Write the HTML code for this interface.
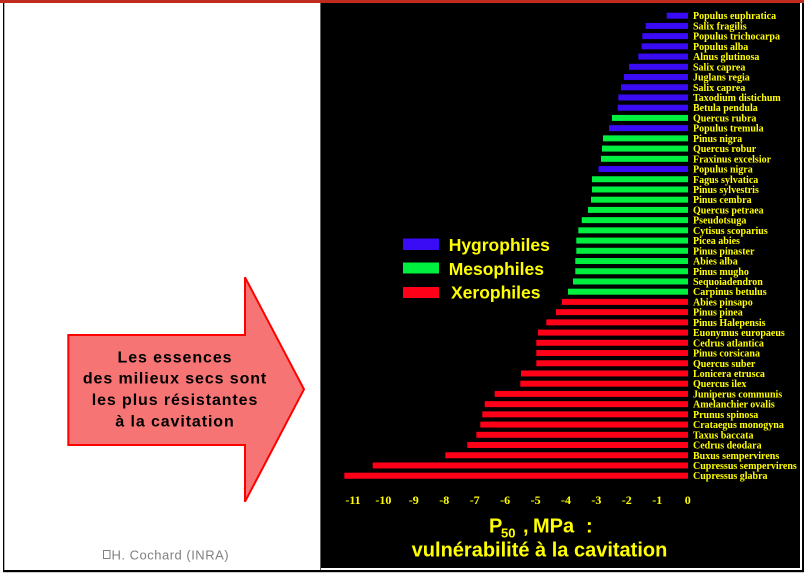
<!DOCTYPE html>
<html>
<head>
<meta charset="utf-8">
<style>
html,body{margin:0;padding:0;background:#fff;}
body{width:811px;height:576px;overflow:hidden;}
svg{display:block;}
.lab{font-family:"Liberation Serif",serif;font-weight:bold;font-size:10px;fill:#ffff00;}
.tick{font-family:"Liberation Serif",serif;font-weight:bold;font-size:12px;fill:#ffff00;}
.sans{font-family:"Liberation Sans",sans-serif;font-weight:bold;}
</style>
</head>
<body>
<svg width="811" height="576" viewBox="0 0 811 576" xmlns="http://www.w3.org/2000/svg">
  <!-- background -->
  <rect x="0" y="0" width="811" height="576" fill="#fff"/>
  <!-- top red band -->
  <rect x="0" y="0" width="804" height="3" fill="#bf2b1f"/>
  <!-- left border -->
  <rect x="3" y="3" width="1.3" height="569" fill="#000"/>
  <!-- bottom outer border -->
  <rect x="3" y="570" width="801" height="2.2" fill="#000"/>
  <!-- right outer border -->
  <rect x="802" y="3" width="2" height="569" fill="#000"/>
  <!-- black panel -->
  <rect x="320" y="3" width="1" height="567" fill="#606060"/>
  <rect x="321" y="3" width="479" height="565" fill="#000"/>

  <!-- arrow -->
  <polygon points="68.3,335 245,335 245,277.3 304,389.3 245,501.7 245,445 68.3,445" fill="#f77474" stroke="#ff0000" stroke-width="2"/>
  <g class="sans" font-size="16" fill="#000" text-anchor="middle" letter-spacing="0.9">
    <text x="175" y="362.7">Les essences</text>
    <text x="175" y="383.3">des milieux secs sont</text>
    <text x="175" y="405">les plus résistantes</text>
    <text x="175" y="426.7">à la cavitation</text>
  </g>

  <!-- copyright -->
  <rect x="103.5" y="550.5" width="6.5" height="8" fill="none" stroke="#808080" stroke-width="1"/>
  <text x="111.5" y="559.3" font-family="Liberation Sans, sans-serif" font-size="13" fill="#808080" letter-spacing="0.5">H. Cochard (INRA)</text>

  <!-- bars -->
  <g id="bars"></g>
  <g>
    <rect x="666.7" y="12.7" width="21.3" height="6" fill="#3a0cf5"/>
    <rect x="645.7" y="22.92" width="42.3" height="6" fill="#3a0cf5"/>
    <rect x="642.3" y="33.14" width="45.7" height="6" fill="#3a0cf5"/>
    <rect x="641.7" y="43.37" width="46.3" height="6" fill="#3a0cf5"/>
    <rect x="638.3" y="53.59" width="49.7" height="6" fill="#3a0cf5"/>
    <rect x="629" y="63.81" width="59" height="6" fill="#3a0cf5"/>
    <rect x="624" y="74.03" width="64" height="6" fill="#3a0cf5"/>
    <rect x="621" y="84.25" width="67" height="6" fill="#3a0cf5"/>
    <rect x="618.3" y="94.48" width="69.7" height="6" fill="#3a0cf5"/>
    <rect x="617.7" y="104.7" width="70.3" height="6" fill="#3a0cf5"/>
    <rect x="612" y="114.92" width="76" height="6" fill="#00f040"/>
    <rect x="609" y="125.14" width="79" height="6" fill="#3a0cf5"/>
    <rect x="603" y="135.36" width="85" height="6" fill="#00f040"/>
    <rect x="602" y="145.59" width="86" height="6" fill="#00f040"/>
    <rect x="601" y="155.81" width="87" height="6" fill="#00f040"/>
    <rect x="598.5" y="166.03" width="89.5" height="6" fill="#3a0cf5"/>
    <rect x="592" y="176.25" width="96" height="6" fill="#00f040"/>
    <rect x="592" y="186.47" width="96" height="6" fill="#00f040"/>
    <rect x="591" y="196.7" width="97" height="6" fill="#00f040"/>
    <rect x="588" y="206.92" width="100" height="6" fill="#00f040"/>
    <rect x="581.7" y="217.14" width="106.3" height="6" fill="#00f040"/>
    <rect x="578.3" y="227.36" width="109.7" height="6" fill="#00f040"/>
    <rect x="576.3" y="237.58" width="111.7" height="6" fill="#00f040"/>
    <rect x="576.3" y="247.81" width="111.7" height="6" fill="#00f040"/>
    <rect x="575.3" y="258.03" width="112.7" height="6" fill="#00f040"/>
    <rect x="575.3" y="268.25" width="112.7" height="6" fill="#00f040"/>
    <rect x="573" y="278.47" width="115" height="6" fill="#00f040"/>
    <rect x="568" y="288.69" width="120" height="6" fill="#00f040"/>
    <rect x="562" y="298.92" width="126" height="6" fill="#ff0018"/>
    <rect x="556" y="309.14" width="132" height="6" fill="#ff0018"/>
    <rect x="546.3" y="319.36" width="141.7" height="6" fill="#ff0018"/>
    <rect x="538" y="329.58" width="150" height="6" fill="#ff0018"/>
    <rect x="536.3" y="339.8" width="151.7" height="6" fill="#ff0018"/>
    <rect x="536.3" y="350.03" width="151.7" height="6" fill="#ff0018"/>
    <rect x="536.3" y="360.25" width="151.7" height="6" fill="#ff0018"/>
    <rect x="521" y="370.47" width="167" height="6" fill="#ff0018"/>
    <rect x="520.3" y="380.69" width="167.7" height="6" fill="#ff0018"/>
    <rect x="494.7" y="390.91" width="193.3" height="6" fill="#ff0018"/>
    <rect x="484.7" y="401.14" width="203.3" height="6" fill="#ff0018"/>
    <rect x="482.3" y="411.36" width="205.7" height="6" fill="#ff0018"/>
    <rect x="480.3" y="421.58" width="207.7" height="6" fill="#ff0018"/>
    <rect x="476.3" y="431.8" width="211.7" height="6" fill="#ff0018"/>
    <rect x="467.3" y="442.02" width="220.7" height="6" fill="#ff0018"/>
    <rect x="445.3" y="452.25" width="242.7" height="6" fill="#ff0018"/>
    <rect x="372.7" y="462.47" width="315.3" height="6" fill="#ff0018"/>
    <rect x="344.3" y="472.69" width="343.7" height="6" fill="#ff0018"/>
  </g>

  <!-- species labels -->
  <g class="lab">
    <text x="693" y="19.2">Populus euphratica</text>
    <text x="693" y="29.42">Salix fragilis</text>
    <text x="693" y="39.64">Populus trichocarpa</text>
    <text x="693" y="49.87">Populus alba</text>
    <text x="693" y="60.09">Alnus glutinosa</text>
    <text x="693" y="70.31">Salix caprea</text>
    <text x="693" y="80.53">Juglans regia</text>
    <text x="693" y="90.75">Salix caprea</text>
    <text x="693" y="100.98">Taxodium distichum</text>
    <text x="693" y="111.2">Betula pendula</text>
    <text x="693" y="121.42">Quercus rubra</text>
    <text x="693" y="131.64">Populus tremula</text>
    <text x="693" y="141.86">Pinus nigra</text>
    <text x="693" y="152.09">Quercus robur</text>
    <text x="693" y="162.31">Fraxinus excelsior</text>
    <text x="693" y="172.53">Populus nigra</text>
    <text x="693" y="182.75">Fagus sylvatica</text>
    <text x="693" y="192.97">Pinus sylvestris</text>
    <text x="693" y="203.2">Pinus cembra</text>
    <text x="693" y="213.42">Quercus petraea</text>
    <text x="693" y="223.64">Pseudotsuga</text>
    <text x="693" y="233.86">Cytisus scoparius</text>
    <text x="693" y="244.08">Picea abies</text>
    <text x="693" y="254.31">Pinus pinaster</text>
    <text x="693" y="264.53">Abies alba</text>
    <text x="693" y="274.75">Pinus mugho</text>
    <text x="693" y="284.97">Sequoiadendron</text>
    <text x="693" y="295.19">Carpinus betulus</text>
    <text x="693" y="305.42">Abies pinsapo</text>
    <text x="693" y="315.64">Pinus pinea</text>
    <text x="693" y="325.86">Pinus Halepensis</text>
    <text x="693" y="336.08">Euonymus europaeus</text>
    <text x="693" y="346.3">Cedrus atlantica</text>
    <text x="693" y="356.53">Pinus corsicana</text>
    <text x="693" y="366.75">Quercus suber</text>
    <text x="693" y="376.97">Lonicera etrusca</text>
    <text x="693" y="387.19">Quercus ilex</text>
    <text x="693" y="397.41">Juniperus communis</text>
    <text x="693" y="407.64">Amelanchier ovalis</text>
    <text x="693" y="417.86">Prunus spinosa</text>
    <text x="693" y="428.08">Crataegus monogyna</text>
    <text x="693" y="438.3">Taxus baccata</text>
    <text x="693" y="448.52">Cedrus deodara</text>
    <text x="693" y="458.75">Buxus sempervirens</text>
    <text x="693" y="468.97">Cupressus sempervirens</text>
    <text x="693" y="479.19">Cupressus glabra</text>
  </g>

  <!-- axis tick labels -->
  <g class="tick" text-anchor="middle">
    <text x="687.7" y="504">0</text>
    <text x="657.3" y="504">-1</text>
    <text x="626.8" y="504">-2</text>
    <text x="596.4" y="504">-3</text>
    <text x="566" y="504">-4</text>
    <text x="535.6" y="504">-5</text>
    <text x="505.1" y="504">-6</text>
    <text x="474.7" y="504">-7</text>
    <text x="444.3" y="504">-8</text>
    <text x="413.8" y="504">-9</text>
    <text x="383.4" y="504">-10</text>
    <text x="353" y="504">-11</text>
  </g>

  <!-- legend -->
  <rect x="403" y="238.5" width="36" height="11.5" fill="#3a0cf5"/>
  <rect x="403" y="262.5" width="36" height="11" fill="#00f040"/>
  <rect x="403" y="287" width="36" height="11" fill="#ff0018"/>
  <g class="sans" font-size="17.5" fill="#ffff00">
    <text x="448.7" y="251">Hygrophiles</text>
    <text x="448.7" y="275">Mesophiles</text>
    <text x="451" y="298.3">Xerophiles</text>
  </g>

  <!-- axis title -->
  <g class="sans" fill="#ffff00">
    <text x="489" y="532.7" font-size="20">P</text>
    <text x="501" y="537.5" font-size="13">50</text>
    <text x="523" y="532.7" font-size="20">,</text>
    <text x="533" y="532.7" font-size="20">MPa</text>
    <text x="586" y="532.7" font-size="20">:</text>
    <text x="539.5" y="556.7" font-size="20" text-anchor="middle">vulnérabilité à la cavitation</text>
  </g>
</svg>
</body>
</html>
